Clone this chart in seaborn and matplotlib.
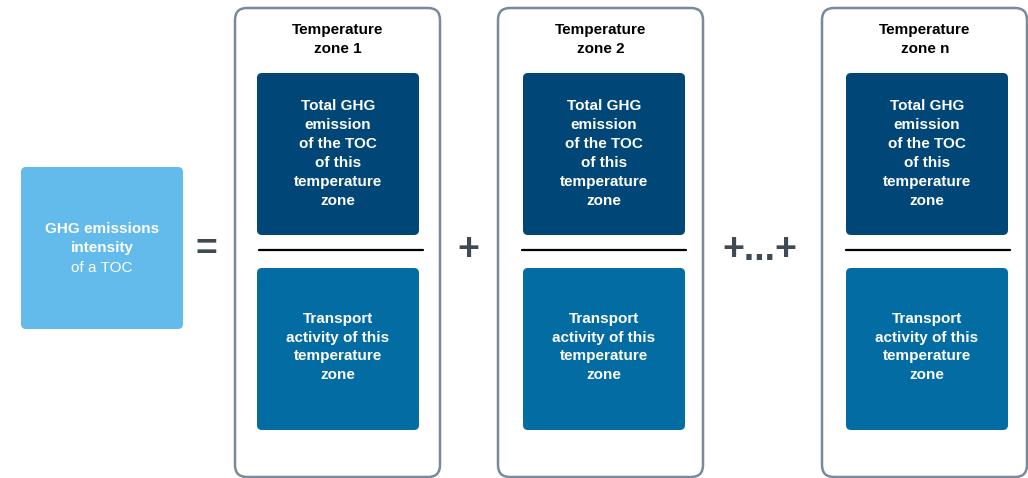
import matplotlib
matplotlib.use("Agg")
import matplotlib.pyplot as plt
from matplotlib.patches import FancyBboxPatch
import seaborn as sns

sns.set_theme(style="white")
plt.rcParams['font.family'] = ['Liberation Sans', 'DejaVu Sans']

# content
zone_titles = ["Temperature\nzone 1", "Temperature\nzone 2", "Temperature\nzone n"]
numerator_text = "Total GHG\nemission\nof the TOC\nof this\ntemperature\nzone"
denominator_text = "Transport\nactivity of this\ntemperature\nzone"
operators = ["=", "+", "+...+"]
left_bold = "GHG emissions\nintensity"
left_regular = "of a TOC"

# style
c_light = "#62bbea"
c_dark = "#004677"
c_mid = "#036ca3"
c_border = "#7a8a9c"
c_op = "#3f4a52"

fig = plt.figure(figsize=(10.28, 4.78), dpi=100)
ax = fig.add_axes([0, 0, 1, 1])
ax.set_xlim(0, 1028)
ax.set_ylim(478, 0)
ax.axis("off")

def rbox(x0, y0, x1, y1, fc, ec="none", lw=0, r=6):
    p = FancyBboxPatch((x0 + r, y0 + r), (x1 - x0) - 2 * r, (y1 - y0) - 2 * r,
                       boxstyle=f"round,pad={r}", fc=fc, ec=ec, lw=lw)
    ax.add_patch(p)

FS = 11
LS = 1.45

# left box
rbox(21, 167, 183, 329, c_light, r=5)
ax.text(102, 238.5, left_bold, color="white", fontsize=FS, fontweight="bold",
        ha="center", va="center", linespacing=LS)
ax.text(102, 267.5, left_regular, color="white", fontsize=FS,
        ha="center", va="center")

panel_x = [235, 498, 822]
inner_x = [257, 523, 846]
line_x = [(259, 423), (522, 686), (846, 1010)]
panel_w = 205
op_x = [206, 468, 760]

for px, ix, (lx0, lx1), title in zip(panel_x, inner_x, line_x, zone_titles):
    rbox(px, 8, px + panel_w, 477, "white", ec=c_border, lw=1.8, r=12)
    cx = ix + 81
    ax.text(px + panel_w / 2 + 0.5, 39.5, title, color="black", fontsize=FS,
            fontweight="bold", ha="center", va="center", linespacing=LS)
    rbox(ix, 73, ix + 162, 235, c_dark, r=5)
    ax.text(cx, 153.5, numerator_text, color="white", fontsize=FS, fontweight="bold",
            ha="center", va="center", linespacing=LS)
    ax.plot([lx0, lx1], [250, 250], color="black", lw=1.6)
    rbox(ix, 268, ix + 162, 430, c_mid, r=5)
    ax.text(cx, 347, denominator_text, color="white", fontsize=FS, fontweight="bold",
            ha="center", va="center", linespacing=LS)

for x, op in zip(op_x, operators):
    ax.text(x, 250, op, color=c_op, fontsize=27, fontweight="bold",
            ha="center", va="center")

fig.savefig("out.png", dpi=100)
